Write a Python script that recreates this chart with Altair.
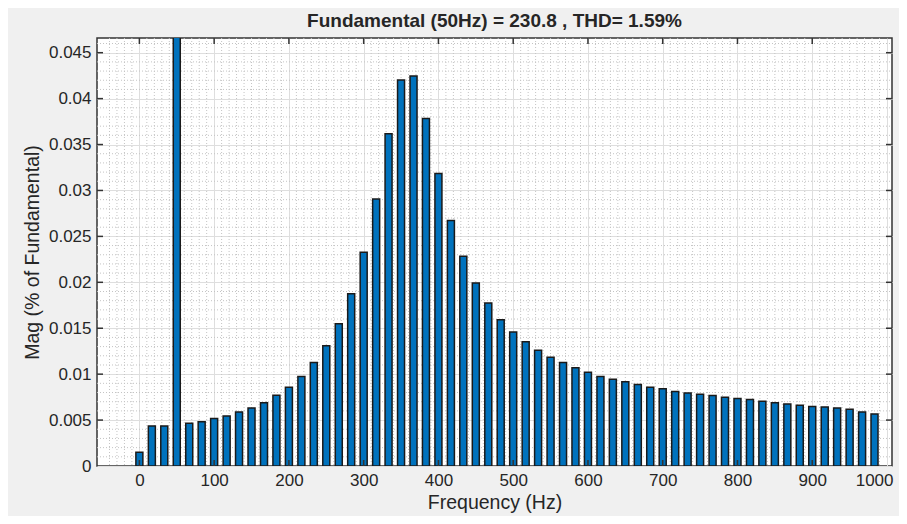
import altair as alt
import pandas as pd

# Harmonic / interharmonic frequencies (Hz)
freq = [0, 16.7, 33.3, 50, 66.7, 83.3, 100, 116.7, 133.3, 150, 166.7, 183.3,
        200, 216.7, 233.3, 250, 266.7, 283.3, 300, 316.7, 333.3, 350, 366.7, 383.3,
        400, 416.7, 433.3, 450, 466.7, 483.3, 500, 516.7, 533.3, 550, 566.7, 583.3,
        600, 616.7, 633.3, 650, 666.7, 683.3, 700, 716.7, 733.3, 750, 766.7, 783.3,
        800, 816.7, 833.3, 850, 866.7, 883.3, 900, 916.7, 933.3, 950, 966.7, 983.3]
# Magnitude (% of fundamental); fundamental (50 Hz) is 100 and clipped
mag = [0.0015, 0.00436, 0.00436, 100, 0.00465, 0.00483, 0.00516, 0.00545, 0.00589, 0.00632,
       0.0069, 0.00771, 0.00858, 0.00974, 0.01127, 0.01309, 0.01549, 0.01876, 0.02326, 0.02908,
       0.03617, 0.04202, 0.04246, 0.03784, 0.03184, 0.02672, 0.02283, 0.01992, 0.01774, 0.01592,
       0.01458, 0.01352, 0.01261, 0.01185, 0.01127, 0.01069, 0.01021, 0.00974, 0.00945, 0.00916,
       0.00887, 0.00858, 0.0084, 0.0081, 0.00796, 0.00782, 0.00767, 0.00749, 0.00734, 0.00723,
       0.00705, 0.0069, 0.00676, 0.00662, 0.00647, 0.00643, 0.00632, 0.00618, 0.00589, 0.00567]

x_ticks = [0, 100, 200, 300, 400, 500, 600, 700, 800, 900, 1000]
y_ticks = [0, 0.005, 0.01, 0.015, 0.02, 0.025, 0.03, 0.035, 0.04, 0.045]
x_minor = [v for v in range(-40, 1000, 10) if v % 100 != 0]
y_minor = [i / 1000 for i in range(1, 47) if i % 5 != 0]

title_text = "Fundamental (50Hz) = 230.8 , THD= 1.59%"
W, H = 795, 428
X_DOMAIN = [-50, 1000]
Y_DOMAIN = [0, 0.0466]
TXT = "#262626"
FONT = "Liberation Sans"

bars_df = pd.DataFrame({"f": freq, "mag": mag})
xminor_df = pd.DataFrame({"f": x_minor})
yminor_df = pd.DataFrame({"mag": y_minor})
xt_df = pd.DataFrame({"f": x_ticks[:-1]})
yt_df = pd.DataFrame({"mag": y_ticks[1:]})

xscale = alt.Scale(domain=X_DOMAIN, nice=False, zero=False)
yscale = alt.Scale(domain=Y_DOMAIN, nice=False)
last_tick = "datum.value >= 1000"
x_axis = alt.Axis(values=x_ticks, title="Frequency (Hz)", format="d",
                  ticks=False, domain=False, grid=True, labelOverlap=False,
                  labelFlush=False,
                  labelAlign={"condition": {"test": last_tick, "value": "right"}, "value": "center"},
                  labelOffset={"condition": {"test": last_tick, "value": 6}, "value": 0},
                  labelPadding=6, titlePadding=5)
y_axis = alt.Axis(values=y_ticks, title="Mag (% of Fundamental)", format="~g",
                  ticks=False, domain=False, grid=True, labelPadding=6,
                  titlePadding=6)

def X():
    return alt.X("f:Q", scale=xscale, axis=x_axis)

def Y():
    return alt.Y("mag:Q", scale=yscale, axis=y_axis)

minor_style = dict(color="#c4c4c4", strokeDash=[1, 2], strokeWidth=1)

vminor = alt.Chart(xminor_df).mark_rule(**minor_style).encode(
    x=X(), y=alt.value(0), y2=alt.value(H))
hminor = alt.Chart(yminor_df).mark_rule(**minor_style).encode(
    y=Y(), x=alt.value(0), x2=alt.value(W))

bars = alt.Chart(bars_df).mark_bar(
    width=7, color="#0072BD", stroke="#1a1a1a", strokeWidth=1.5, clip=True
).encode(x=X(), y=Y())

tick_style = dict(color="#333333", strokeWidth=1.5)
xt_bottom = alt.Chart(xt_df).mark_rule(**tick_style).encode(
    x=X(), y=alt.value(H), y2=alt.value(H - 6))
xt_top = alt.Chart(xt_df).mark_rule(**tick_style).encode(
    x=X(), y=alt.value(0), y2=alt.value(6))
yt_left = alt.Chart(yt_df).mark_rule(**tick_style).encode(
    y=Y(), x=alt.value(0), x2=alt.value(6))
yt_right = alt.Chart(yt_df).mark_rule(**tick_style).encode(
    y=Y(), x=alt.value(W), x2=alt.value(W - 6))

chart = alt.layer(vminor, hminor, bars, xt_bottom, xt_top, yt_left, yt_right).properties(
    width=W, height=H,
    title=alt.TitleParams(title_text, fontSize=19, fontWeight="bold", font=FONT,
                          color=TXT, anchor="middle", offset=6),
    autosize=alt.AutoSizeParams(type="none"),
    padding={"left": 89, "top": 30, "right": 7, "bottom": 50},
).configure(background="#f0f0f0").configure_view(
    fill="white", stroke="#333333", strokeWidth=1.5
).configure_axis(
    labelFont=FONT, titleFont=FONT, labelFontSize=17, titleFontSize=19.5,
    labelColor=TXT, titleColor=TXT, titleFontWeight="normal",
    gridColor="#dedede", gridWidth=1
)

chart.save("out.html", embed_options={"renderer": "svg", "actions": False})
